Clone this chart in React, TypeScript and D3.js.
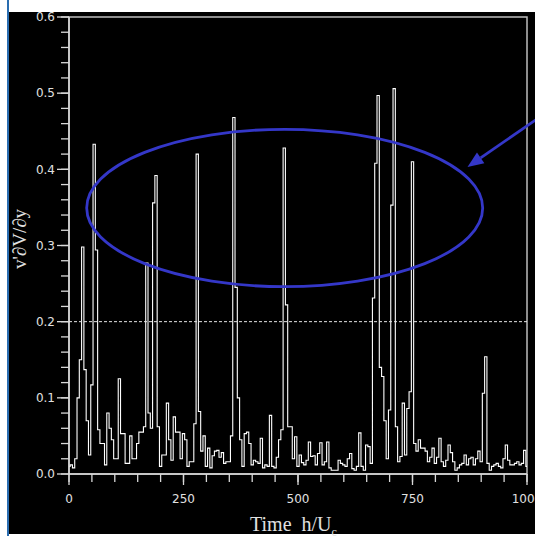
import React from 'react';
import * as d3 from 'd3';

const valuesA = [
  0.010, 0.012, 0.008, 0.020, 0.100, 0.150, 0.298, 0.137, 0.070, 0.025,
  0.117, 0.433, 0.294, 0.058, 0.040, 0.040, 0.012, 0.080, 0.060, 0.045,
  0.020, 0.020, 0.125, 0.053, 0.053, 0.014, 0.014, 0.050, 0.020, 0.020,
  0.040, 0.055, 0.055, 0.062, 0.277, 0.080, 0.060, 0.356, 0.392, 0.062,
  0.010, 0.025, 0.025, 0.093, 0.045, 0.018, 0.075, 0.055, 0.055, 0.020,
];
const valuesB = [
  0.053, 0.045, 0.010, 0.016, 0.016, 0.066, 0.420, 0.082, 0.030, 0.050,
  0.010, 0.034, 0.008, 0.024, 0.030, 0.031, 0.022, 0.028, 0.014, 0.016,
  0.016, 0.050, 0.468, 0.245, 0.100, 0.045, 0.010, 0.053, 0.055, 0.040,
  0.012, 0.018, 0.016, 0.014, 0.047, 0.008, 0.012, 0.010, 0.077, 0.010,
  0.008, 0.022, 0.045, 0.058, 0.428, 0.222, 0.062, 0.062, 0.020, 0.049,
];
const valuesC = [
  0.010, 0.025, 0.015, 0.012, 0.018, 0.042, 0.023, 0.024, 0.012, 0.027,
  0.041, 0.012, 0.016, 0.042, 0.008, 0.005, 0.005, 0.005, 0.018, 0.014,
  0.012, 0.010, 0.020, 0.027, 0.007, 0.005, 0.010, 0.054, 0.010, 0.005,
  0.038, 0.036, 0.014, 0.231, 0.408, 0.497, 0.140, 0.128, 0.070, 0.020,
  0.084, 0.353, 0.506, 0.062, 0.016, 0.023, 0.093, 0.025, 0.086, 0.108,
];
const valuesD = [
  0.410, 0.040, 0.030, 0.045, 0.034, 0.034, 0.030, 0.016, 0.022, 0.034,
  0.014, 0.022, 0.047, 0.016, 0.010, 0.018, 0.038, 0.028, 0.016, 0.005,
  0.008, 0.012, 0.014, 0.025, 0.012, 0.020, 0.022, 0.012, 0.020, 0.030,
  0.016, 0.106, 0.154, 0.014, 0.005, 0.010, 0.012, 0.014, 0.010, 0.008,
  0.020, 0.038, 0.018, 0.012, 0.012, 0.014, 0.016, 0.012, 0.014, 0.031, 0.010,
];
const timeStep = 5;

const xTickLabels = [0, 250, 500, 750, 1000];
const yTickLabels = [0, 0.1, 0.2, 0.3, 0.4, 0.5, 0.6];
const threshold = 0.2;

const W = 535;
const H = 536;
const margin = { left: 69, right: 8, top: 17, bottom: 62 };

const App = () => {
  const series = [...valuesA, ...valuesB, ...valuesC, ...valuesD].map((v, i) => ({ t: i * timeStep, v }));

  const x = d3.scaleLinear().domain([0, 1000]).range([margin.left, W - margin.right]);
  const y = d3.scaleLinear().domain([0, 0.6]).range([H - margin.bottom, margin.top]);

  // stepped trace so the bursts show as thin vertical spikes
  const line = d3.line<{ t: number; v: number }>()
    .x(d => x(d.t))
    .y(d => y(d.v))
    .curve(d3.curveStep);

  const xMinor = x.ticks(20);
  const yMinor = y.ticks(30);
  const fmt = d3.format('.1f');
  const axisColor = '#d8d8d8';

  // annotation arrow
  const tip = [467.5, 167];
  const tail = [537, 119];
  const len = Math.hypot(tail[0] - tip[0], tail[1] - tip[1]);
  const ux = (tail[0] - tip[0]) / len;
  const uy = (tail[1] - tip[1]) / len;
  const headL = 16;
  const headW = 6.5;
  const bx = tip[0] + ux * headL;
  const by = tip[1] + uy * headL;
  const head = `M${tip[0]},${tip[1]}L${bx - uy * headW},${by + ux * headW}L${bx + uy * headW},${by - ux * headW}Z`;

  return (
    <svg width={W} height={H} style={{ position: 'absolute', left: 0, top: 0 }}>
      <rect width={W} height={H} fill="#fff" />
      <rect x={9} y={12} width={W - 9} height={522} fill="#000" />
      <line x1={8} x2={8} y1={0} y2={H} stroke="#2a6db0" strokeWidth={2} />

      {/* frame */}
      <rect x={x(0)} y={y(0.6)} width={x(1000) - x(0)} height={y(0) - y(0.6)}
        fill="none" stroke="#bdbdbd" strokeWidth={1.5} />

      {/* data */}
      <path d={line(series) ?? ''} fill="none" stroke="#fff" strokeWidth={1.1} />

      {/* threshold */}
      <line x1={x(0)} x2={x(1000)} y1={y(threshold)} y2={y(threshold)}
        stroke="#e6e6e6" strokeWidth={1} strokeDasharray="3,2" />

      {/* axes */}
      <line x1={x(0)} x2={x(0)} y1={y(0)} y2={y(0.6)} stroke={axisColor} strokeWidth={1.5} />
      <line x1={x(0)} x2={x(1000)} y1={y(0)} y2={y(0)} stroke={axisColor} strokeWidth={1.5} />

      {yMinor.map(t => (
        <line key={'ym' + t} x1={x(0) - 8} x2={x(0)} y1={y(t)} y2={y(t)} stroke={axisColor} strokeWidth={1.3} />
      ))}
      {yTickLabels.map(t => (
        <g key={'y' + t}>
          <line x1={x(0) - 12} x2={x(0)} y1={y(t)} y2={y(t)} stroke={axisColor} strokeWidth={1.3} />
          <text x={x(0) - 14} y={y(t)} dy="0.35em" textAnchor="end" fill="#e0e0e0"
            fontFamily="DejaVu Sans, sans-serif" fontSize={12}>{fmt(t)}</text>
        </g>
      ))}

      {xMinor.map(t => (
        <line key={'xm' + t} x1={x(t)} x2={x(t)} y1={y(0)} y2={y(0) + 8} stroke={axisColor} strokeWidth={1.3} />
      ))}
      {xTickLabels.map(t => (
        <g key={'x' + t}>
          <line x1={x(t)} x2={x(t)} y1={y(0)} y2={y(0) + 11} stroke={axisColor} strokeWidth={1.3} />
          <text x={x(t)} y={503} textAnchor="middle" fill="#e0e0e0"
            fontFamily="DejaVu Sans, sans-serif" fontSize={12}>{t}</text>
        </g>
      ))}

      {/* axis titles */}
      <text x={250} y={531} fill="#e0e0e0" fontFamily="Liberation Serif, serif" fontSize={20}>
        Time<tspan dx={10}>h/U</tspan><tspan dy={5} fontSize={12}>c</tspan>
      </text>
      <text transform="translate(26,239) rotate(-90)" textAnchor="middle" fill="#e0e0e0"
        fontFamily="Liberation Serif, serif" fontSize={19}>
        v'∂V/∂y
      </text>

      {/* annotation */}
      <ellipse cx={284.7} cy={208} rx={198} ry={78.7} fill="none" stroke="#3437c8" strokeWidth={2.8} />
      <line x1={tail[0]} y1={tail[1]} x2={bx} y2={by} stroke="#3437c8" strokeWidth={2.8} />
      <path d={head} fill="#3437c8" />
    </svg>
  );
};

export default App;
